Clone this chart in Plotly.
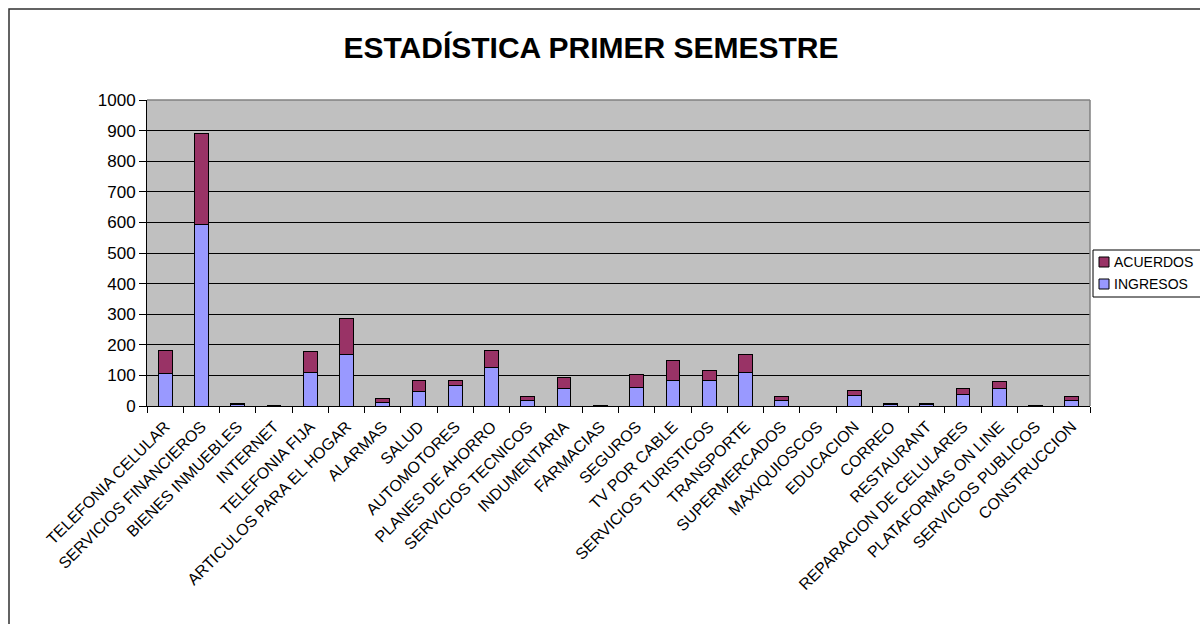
import plotly.graph_objects as go

categories = [
    "TELEFONIA CELULAR", "SERVICIOS FINANCIEROS", "BIENES INMUEBLES", "INTERNET",
    "TELEFONIA FIJA", "ARTICULOS PARA EL HOGAR", "ALARMAS", "SALUD", "AUTOMOTORES",
    "PLANES DE AHORRO", "SERVICIOS TECNICOS", "INDUMENTARIA", "FARMACIAS", "SEGUROS",
    "TV POR CABLE", "SERVICIOS TURISTICOS", "TRANSPORTE", "SUPERMERCADOS",
    "MAXIQUIOSCOS", "EDUCACION", "CORREO", "RESTAURANT", "REPARACION DE CELULARES",
    "PLATAFORMAS ON LINE", "SERVICIOS PUBLICOS", "CONSTRUCCION",
]
ingresos = [105, 593, 4, 1, 110, 167, 12, 49, 67, 125, 17, 57, 1, 62,
            82, 82, 111, 19, 0, 33, 5, 5, 38, 57, 1, 19]
acuerdos = [78, 297, 5, 2, 67, 120, 13, 34, 16, 58, 14, 37, 2, 40,
            66, 33, 56, 13, 0, 18, 4, 4, 18, 23, 2, 13]
y_ticks = [0, 100, 200, 300, 400, 500, 600, 700, 800, 900, 1000]
series_names = ["INGRESOS", "ACUERDOS"]
series_colors = ["#9999FF", "#993366"]

FONT = "Liberation Sans, Arial, sans-serif"

fig = go.Figure()
for name, vals, col in zip(series_names, [ingresos, acuerdos], series_colors):
    fig.add_trace(go.Bar(
        x=categories, y=vals, name=name, showlegend=False,
        marker=dict(color=col, line=dict(color="black", width=1)),
    ))

L, R, T, B = 147, 110, 100, 218
W, H = 1200, 624
pw, ph = W - L - R, H - T - B


def px(x):
    return (x - L) / pw


def py(y):
    return (H - B - y) / ph


shapes = [
    # gray plot-area border (top and right)
    dict(type="line", xref="paper", yref="paper", x0=0, x1=1, y0=1, y1=1,
         line=dict(color="#808080", width=1.5)),
    dict(type="line", xref="paper", yref="paper", x0=1, x1=1, y0=0, y1=1,
         line=dict(color="#808080", width=1.5)),
    # outer chart border
    dict(type="rect", xref="paper", yref="paper",
         x0=px(9), x1=px(W + 20), y0=py(H + 20), y1=py(9),
         line=dict(color="#303030", width=1.5), fillcolor="rgba(0,0,0,0)"),
    # legend box
    dict(type="rect", xref="paper", yref="paper",
         x0=px(1093), x1=px(W + 20), y0=py(297), y1=py(250),
         line=dict(color="black", width=1), fillcolor="white"),
]
annotations = []
# legend entries (top: ACUERDOS, bottom: INGRESOS)
legend_rows = [("ACUERDOS", series_colors[1], 262), ("INGRESOS", series_colors[0], 284)]
for label, col, yc in legend_rows:
    shapes.append(dict(type="rect", xref="paper", yref="paper",
                       x0=px(1099), x1=px(1109), y0=py(yc + 5), y1=py(yc - 5),
                       line=dict(color="black", width=1), fillcolor=col))
    annotations.append(dict(text=label, xref="paper", yref="paper",
                            x=px(1112), y=py(yc), xanchor="left", yanchor="middle",
                            showarrow=False,
                            font=dict(family=FONT, size=14, color="black")))

fig.update_layout(
    width=W, height=H,
    barmode="stack", bargap=0.62,
    showlegend=False,
    paper_bgcolor="white", plot_bgcolor="#C0C0C0",
    margin=dict(l=L, r=R, t=T, b=B, autoexpand=False),
    font=dict(family=FONT, color="black"),
    title=dict(
        text="<b>ESTADÍSTICA PRIMER SEMESTRE</b>",
        font=dict(family=FONT, size=30, color="black"),
        x=px(591), xref="paper", xanchor="center",
        y=1 - 47 / H, yref="container", yanchor="middle",
    ),
    xaxis=dict(
        type="category", tickangle=-45, tickson="boundaries",
        ticks="outside", ticklen=6, tickcolor="black", tickwidth=1,
        showline=True, linecolor="black", linewidth=1,
        showgrid=False, ticklabelstandoff=4,
        tickfont=dict(family=FONT, size=16, color="black"),
    ),
    yaxis=dict(
        range=[0, 1000], tickvals=y_ticks,
        ticks="outside", ticklen=7, tickcolor="black", tickwidth=1,
        showline=True, linecolor="black", linewidth=1,
        showgrid=True, gridcolor="black", gridwidth=1,
        zeroline=False,
        tickfont=dict(family=FONT, size=17, color="black"),
    ),
    shapes=shapes,
    annotations=annotations,
)

fig.write_html("out.html", config={"displayModeBar": False},
               post_script="document.body.style.margin='0';")
